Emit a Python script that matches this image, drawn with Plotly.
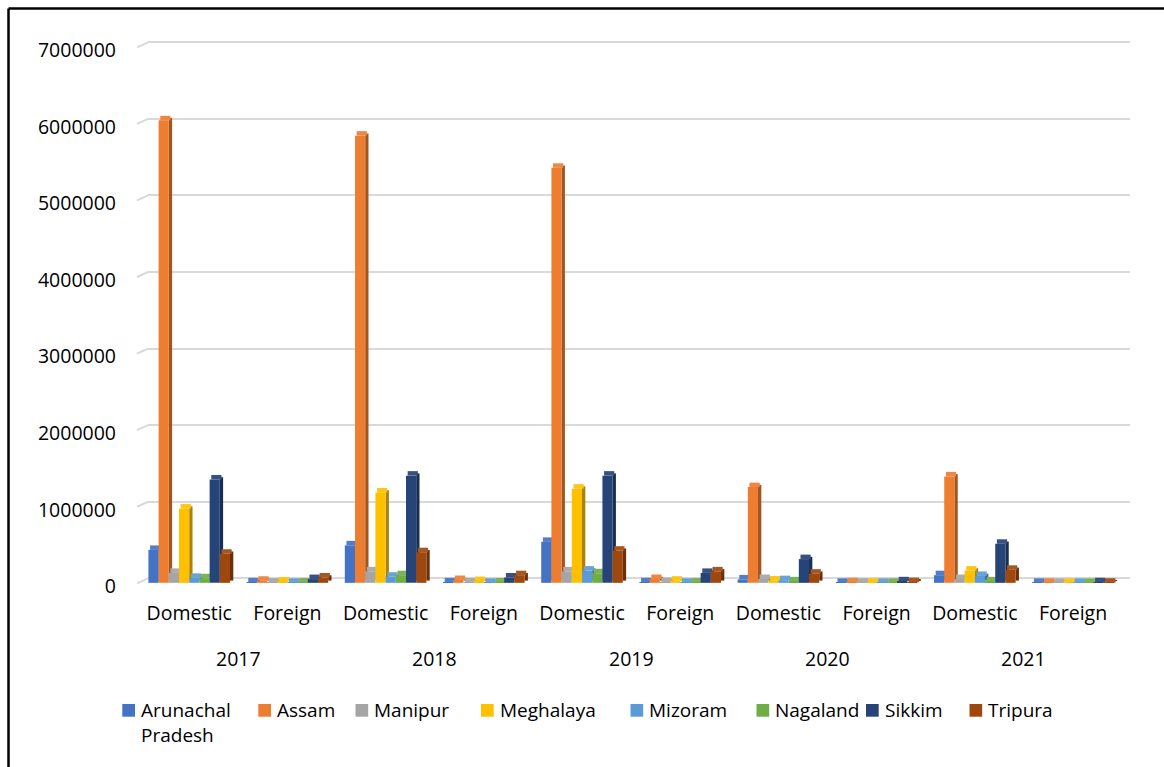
import plotly.graph_objects as go

# ---- data -------------------------------------------------------------
years = ["2017", "2018", "2019", "2020", "2021"]
kinds = ["Domestic", "Foreign"]
states = ["Arunachal<br>Pradesh", "Assam", "Manipur", "Meghalaya",
          "Mizoram", "Nagaland", "Sikkim", "Tripura"]

# values per category, ordered 2017 Domestic, 2017 Foreign, 2018 Domestic, ...
arunachal = [430000, 7000, 490000, 7000, 535000, 8000, 45000, 1000, 100000, 500]
assam     = [6040000, 27000, 5840000, 37000, 5420000, 50000, 1250000, 8000, 1390000, 2000]
manipur   = [130000, 3500, 150000, 6000, 150000, 10000, 50000, 1500, 50000, 500]
meghalaya = [970000, 18000, 1180000, 23000, 1230000, 28000, 30000, 4000, 160000, 1000]
mizoram   = [65000, 1200, 80000, 1200, 160000, 1500, 35000, 300, 90000, 100]
nagaland  = [60000, 4800, 100000, 5000, 125000, 5000, 20000, 1000, 20000, 200]
sikkim    = [1350000, 49000, 1400000, 70000, 1400000, 130000, 310000, 20000, 510000, 8000]
tripura   = [380000, 70000, 400000, 100000, 420000, 150000, 120000, 10000, 170000, 2000]

series = [arunachal, assam, manipur, meghalaya, mizoram, nagaland, sikkim, tripura]
colors = ["#4472C4", "#ED7D31", "#A5A5A5", "#FFC000",
          "#5B9BD5", "#70AD47", "#264478", "#9E480E"]

y_ticks = [0, 1000000, 2000000, 3000000, 4000000, 5000000, 6000000, 7000000]

# ---- geometry ---------------------------------------------------------
W, H = 1164, 767
ML, MR, MT, MB = 148, 34, 40, 181
PW, PH = W - ML - MR, H - MT - MB
X_RANGE = [-0.4196, 9.58]
Y_RANGE = [-100000, 7030000]
ux = (X_RANGE[1] - X_RANGE[0]) / PW      # data units per pixel (x)
uy = (Y_RANGE[1] - Y_RANGE[0]) / PH      # data units per pixel (y)

slot = 10.2 * ux      # column width
dx = 3.3 * ux         # depth of the 3-D side face
depth = 4.5 * uy      # vertical depth of the 3-D top face

FONT = "Open Sans"
FSIZE = 19.5
GRID = "#d9d9d9"


def shade(hex_color, f):
    r, g, b = (int(hex_color[i:i + 2], 16) for i in (1, 3, 5))
    if f < 1:
        r, g, b = (int(c * f) for c in (r, g, b))
    else:
        t = f - 1
        r, g, b = (int(c + (255 - c) * t) for c in (r, g, b))
    return f"rgb({r},{g},{b})"


def px_x(p):
    return (p - ML) / PW


def px_y(p):
    return (H - MB - p) / PH


fig = go.Figure()
n_cat = len(years) * len(kinds)
n_ser = len(series)

for j, (name, vals, col) in enumerate(zip(states, series, colors)):
    centers = [i + (j - (n_ser - 1) / 2) * slot for i in range(n_cat)]
    # right side face
    fig.add_trace(go.Bar(
        x=[c + slot / 2 + dx / 2 for c in centers],
        y=vals, base=-depth / 2, width=dx,
        marker=dict(color=shade(col, 0.68), line=dict(width=0)),
        showlegend=False, hoverinfo="skip"))
    # top face
    fig.add_trace(go.Bar(
        x=[c + dx / 2 for c in centers],
        y=[depth] * n_cat, base=[v - depth for v in vals], width=slot,
        marker=dict(color=shade(col, 1.08), line=dict(width=0)),
        showlegend=False, hoverinfo="skip"))
    # front face
    fig.add_trace(go.Bar(
        x=centers, y=vals, base=-depth, width=slot, name=name,
        marker=dict(color=col, line=dict(width=0)),
        showlegend=False, hoverinfo="skip"))

# year labels under each Domestic / Foreign pair
annotations = [
    dict(x=2 * k + 0.5, y=0, xref="x", yref="paper", text=yr,
         showarrow=False, yanchor="middle", yshift=-72.5,
         font=dict(size=FSIZE, color="#000000", family=FONT))
    for k, yr in enumerate(years)
]

shapes = []
# slanted edge of the side wall where each gridline meets the value axis
for v in y_ticks:
    shapes.append(dict(type="line", xref="paper", yref="y",
                       x0=px_x(137), x1=px_x(ML), y0=v - 5 * uy, y1=v,
                       line=dict(color=GRID, width=2)))

# legend row: colour key squares with their state names
key_left = [122.3, 258.3, 355.5, 481.0, 630.5, 756.5, 866.0, 969.5]
key_top, key_size = 704.0, 12.7
for name, col, kx in zip(states, colors, key_left):
    shapes.append(dict(type="rect", xref="paper", yref="paper",
                       x0=px_x(kx), x1=px_x(kx + key_size),
                       y0=px_y(key_top + key_size), y1=px_y(key_top),
                       fillcolor=col, line=dict(width=0)))
    annotations.append(dict(x=px_x(kx + 17.5), y=px_y(key_top - 8),
                            xref="paper", yref="paper", text=name,
                            showarrow=False, xanchor="left", yanchor="top",
                            align="left", borderpad=0,
                            font=dict(size=19, color="#000000", family=FONT)))

# frame around the chart
shapes += [
    dict(type="line", xref="paper", yref="paper",
         x0=px_x(8.5), x1=px_x(8.5), y0=px_y(8.5), y1=px_y(H + 5),
         line=dict(color="#000000", width=2.5)),
    dict(type="line", xref="paper", yref="paper",
         x0=px_x(8.5), x1=px_x(W + 5), y0=px_y(8.5), y1=px_y(8.5),
         line=dict(color="#000000", width=2.5)),
]

fig.update_layout(
    width=W, height=H,
    margin=dict(l=ML, r=MR, t=MT, b=MB, pad=0),
    paper_bgcolor="white", plot_bgcolor="white",
    barmode="overlay", showlegend=False,
    font=dict(family=FONT, size=FSIZE, color="#000000"),
    xaxis=dict(range=X_RANGE, tickmode="array",
               tickvals=list(range(n_cat)),
               ticktext=kinds * len(years),
               showgrid=False, zeroline=False, showline=False,
               ticks="", ticklabelstandoff=13),
    yaxis=dict(range=Y_RANGE, tickmode="array", tickvals=y_ticks,
               ticktext=[str(v) for v in y_ticks],
               showgrid=True, gridcolor=GRID, gridwidth=2,
               zeroline=False, showline=False, ticks="",
               ticklabelstandoff=31, ticklabelshift=8),
    annotations=annotations,
    shapes=shapes,
)

fig.write_html("out.html")
